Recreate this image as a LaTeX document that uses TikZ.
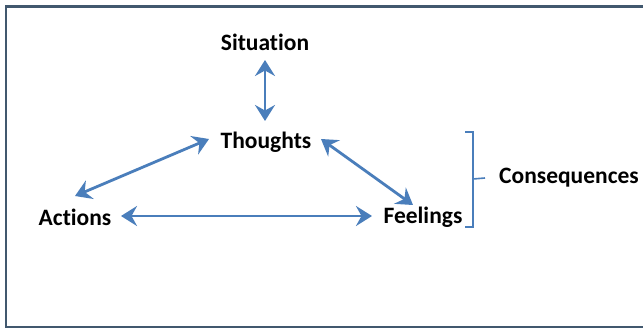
\documentclass[tikz,border=0pt]{standalone}
\usepackage{fontspec}
\setmainfont{Carlito}[Ligatures=NoCommon]
\usetikzlibrary{arrows.meta}
\definecolor{framec}{HTML}{41586E}
\definecolor{arrowc}{HTML}{4A7EBB}
\tikzset{
  lbl/.style={font=\bfseries\fontsize{23.5}{26}\selectfont, inner sep=0pt, text=black},
  tip/.tip={Stealth[length=16pt,width=20pt,inset=5.5pt]},
  link/.style={draw=arrowc, line width=2.8pt, tip-tip},
  brace/.style={draw=arrowc, line width=1.6pt}
}
\begin{document}
\begin{tikzpicture}[x=1pt,y=-1pt]
\useasboundingbox (0,0) rectangle (643,329);
\fill[white] (0,0) rectangle (643,329);
\draw[framec, line width=2.2pt] (6,6.5) rectangle (660,327);
\node[lbl] (sit) at (265,42) {Situation};
\node[lbl] (tho) at (266,142) {Thoughts};
\node[lbl] (act) at (75,217) {Actions};
\node[lbl] (fee) at (423,217) {Feelings};
\node[lbl] (con) at (569,178) {Consequences};
\coordinate (s1) at (265,60);
\coordinate (s2) at (265,121);
\coordinate (ta1) at (209,139);
\coordinate (ta2) at (75,196);
\coordinate (tf1) at (321,139);
\coordinate (tf2) at (413,205);
\coordinate (af1) at (121,216);
\coordinate (af2) at (372,216);
\draw[link] (s1) -- (s2);
\draw[link] (ta1) -- (ta2);
\draw[link] (tf1) -- (tf2);
\draw[link] (af1) -- (af2);
\coordinate (b1) at (465,132);
\coordinate (b2) at (465,227);
\draw[brace] (b1) -- ++(8,0) |- (b2);
\draw[brace] (473,179) -- (con.west -| 485,0);
\end{tikzpicture}
\end{document}
